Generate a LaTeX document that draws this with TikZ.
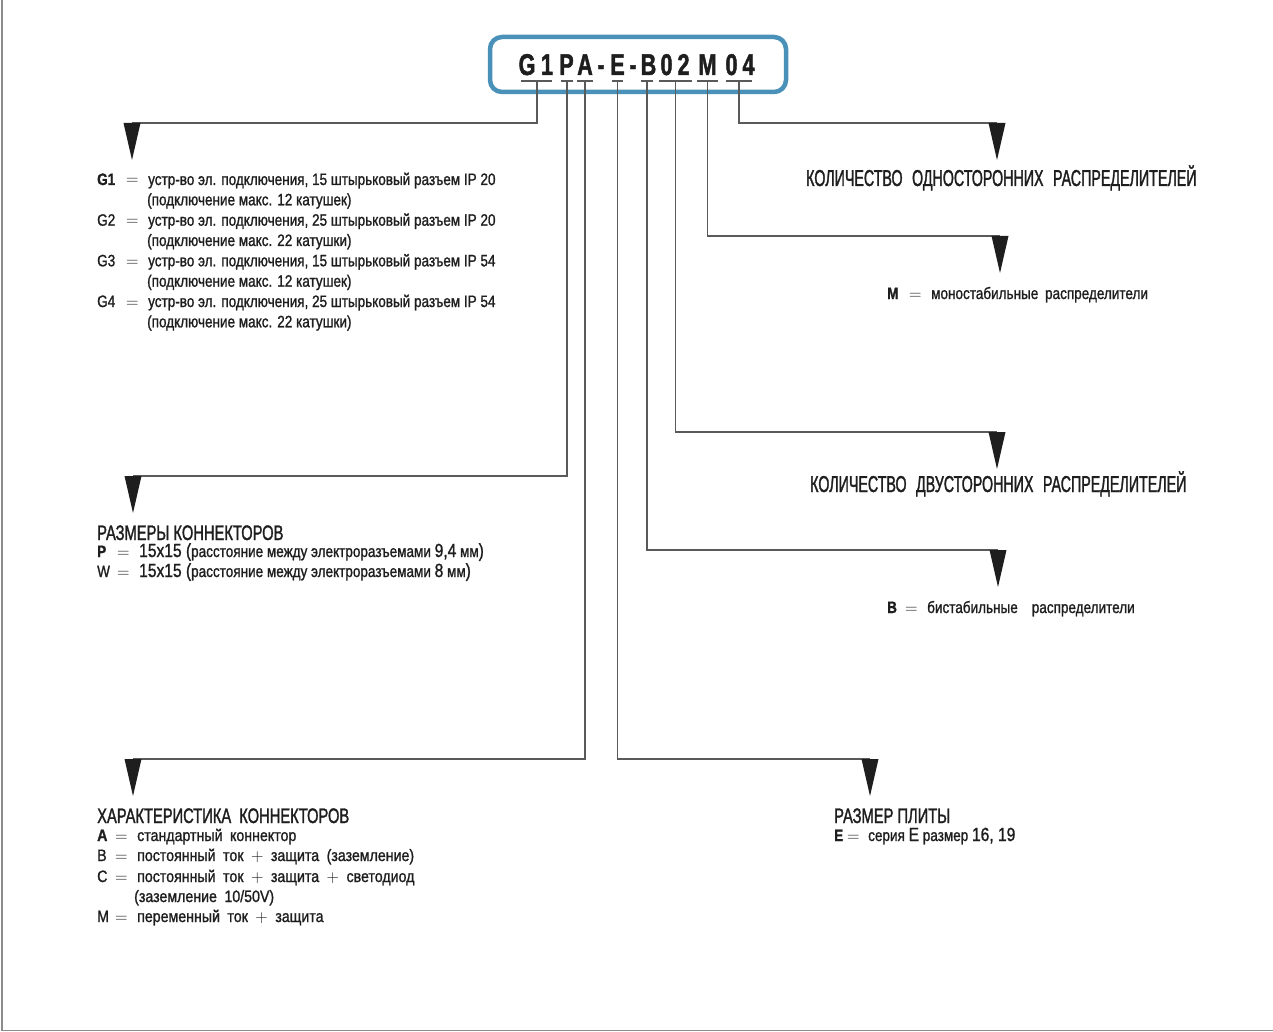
\documentclass[tikz,border=0pt]{standalone}
\usepackage{fontspec}
\setmainfont{Liberation Sans}
\newfontfamily\bodyfont[FakeStretch=0.82,FakeBold=1.2]{Liberation Sans}
\newfontfamily\widefont[FakeStretch=0.86,FakeBold=1.2,WordSpace=1.9]{Liberation Sans}
\newfontfamily\headfont[FakeStretch=0.7,FakeBold=1.4]{Liberation Sans}
\newfontfamily\bigheadfont[FakeStretch=0.62,FakeBold=1.4,WordSpace=2.4]{Liberation Sans}
\newfontfamily\codefont[FakeStretch=0.72,FakeBold=1.5]{Liberation Sans}
\definecolor{boxblue}{RGB}{74,145,186}
\definecolor{linegray}{RGB}{90,90,90}
\definecolor{ink}{RGB}{30,30,30}
\definecolor{framegray}{RGB}{140,140,140}
\tikzset{
  body/.style={font=\bodyfont\fontsize{16.5}{20}\selectfont, text=ink, inner sep=0pt, anchor=base west},
  wbody/.style={font=\widefont\fontsize{16.5}{20}\selectfont, text=ink, inner sep=0pt, anchor=base west},
  head/.style={font=\headfont\fontsize{21}{24}\selectfont, text=ink, inner sep=0pt, anchor=base west},
  bighead/.style={font=\bigheadfont\fontsize{23}{26}\selectfont, text=ink, inner sep=0pt, anchor=base west},
  codechar/.style={font=\codefont\bfseries\fontsize{30}{32}\selectfont, text=ink, inner sep=0pt, anchor=base},
  conn/.style={draw=linegray, line width=1.3pt},
  uline/.style={draw=linegray, line width=1.5pt},
  codebox/.style={draw=boxblue, line width=4.5pt, rounded corners=12pt, minimum width=296pt, minimum height=55pt, inner sep=0pt},
}
\newcommand\arrowtri[1]{\fill[ink] (#1) ++(-8.5,0) -- ++(17,0) -- ++(-8.5,37) -- cycle;}
\newcommand\lt[1]{{\fontsize{19}{20}\selectfont #1}}
\begin{document}
\begin{tikzpicture}[x=1pt,y=-1pt]
\useasboundingbox (0,0) rectangle (1273,1032);
\draw[framegray, line width=1.5pt] (2,0) -- (2,1030.5) -- (1273,1030.5);

% code box
\node[codebox] (box) at (638,64.5) {};
\foreach \ch/\x [count=\i] in {G/527,1/547,P/566.5,A/585,-/601,E/617.5,-/633,B/648.5,0/666.5,2/683.5,M/707.5,0/731.5,4/748.5}
  \node[codechar] (c\i) at (\x,75) {\ch};
\foreach \a/\b in {521/552,561/573,577/593,612/623,641/653,659/692,697/718,726/752}
  \draw[uline] (\a,81) -- (\b,81);

% connector start points
\coordinate (u1) at (537,81);
\coordinate (u2) at (567,81);
\coordinate (u3) at (585,81);
\coordinate (u4) at (617.5,81);
\coordinate (u5) at (647,81);
\coordinate (u6) at (675.5,81);
\coordinate (u7) at (707.5,81);
\coordinate (u8) at (739,81);
% arrow tops
\coordinate (t1) at (132,123);
\coordinate (t2) at (133,476);
\coordinate (t3) at (133,759);
\coordinate (t4) at (870,759);
\coordinate (t5) at (998,550);
\coordinate (t6) at (997,432);
\coordinate (t7) at (1000,236);
\coordinate (t8) at (997,123);

\draw[conn] (u1) |- (t1);
\draw[conn] (u2) |- (t2);
\draw[conn] (u3) |- (t3);
\draw[conn] (u4) |- (t4);
\draw[conn] (u5) |- (t5);
\draw[conn] (u6) |- (t6);
\draw[conn] (u7) |- (t7);
\draw[conn] (u8) |- (t8);
\arrowtri{t1}\arrowtri{t2}\arrowtri{t3}\arrowtri{t4}
\arrowtri{t5}\arrowtri{t6}\arrowtri{t7}\arrowtri{t8}

% G block
\node[body] (g1) at (97,185) {\makebox[29pt][l]{\bfseries G1}\makebox[22pt][l]{$=$}устр-во эл. подключения, 15 штырьковый разъем IP 20};
\node[body] (g1b) at (147,205.3) {(подключение макс. 12 катушек)};
\node[body] (g2) at (97,225.7) {\makebox[29pt][l]{G2}\makebox[22pt][l]{$=$}устр-во эл. подключения, 25 штырьковый разъем IP 20};
\node[body] (g2b) at (147,246) {(подключение макс. 22 катушки)};
\node[body] (g3) at (97,266.3) {\makebox[29pt][l]{G3}\makebox[22pt][l]{$=$}устр-во эл. подключения, 15 штырьковый разъем IP 54};
\node[body] (g3b) at (147,286.7) {(подключение макс. 12 катушек)};
\node[body] (g4) at (97,307) {\makebox[29pt][l]{G4}\makebox[22pt][l]{$=$}устр-во эл. подключения, 25 штырьковый разъем IP 54};
\node[body] (g4b) at (147,327.3) {(подключение макс. 22 катушки)};

% connector sizes
\node[head] (hp) at (97,540) {РАЗМЕРЫ КОННЕКТОРОВ};
\node[body] (pp) at (97,557) {\makebox[20pt][l]{\bfseries P}\makebox[22pt][l]{$=$}\lt{15x15 (}расстояние между электроразъемами \lt{9,4} мм\lt{)}};
\node[body] (ww) at (97,577) {\makebox[20pt][l]{W}\makebox[22pt][l]{$=$}\lt{15x15 (}расстояние между электроразъемами \lt{8} мм\lt{)}};

% connector characteristics
\node[head] (hc) at (97,823) {ХАРАКТЕРИСТИКА\hspace{4pt} КОННЕКТОРОВ};
\node[wbody] (ca) at (97,841) {\makebox[18pt][l]{\bfseries A}\makebox[22pt][l]{$=$}стандартный коннектор};
\node[wbody] (cb) at (97,861) {\makebox[18pt][l]{B}\makebox[22pt][l]{$=$}постоянный ток $+$ защита (заземление)};
\node[wbody] (cc) at (97,882) {\makebox[18pt][l]{C}\makebox[22pt][l]{$=$}постоянный ток $+$ защита $+$ светодиод};
\node[wbody] (cc2) at (134,902) {(заземление 10/50V)};
\node[wbody] (cm) at (97,922) {\makebox[18pt][l]{M}\makebox[22pt][l]{$=$}переменный ток $+$ защита};

% right side
\node[bighead] (h1) at (806,186) {КОЛИЧЕСТВО ОДНОСТОРОННИХ РАСПРЕДЕЛИТЕЛЕЙ};
\node[body] (mm) at (887,299) {\makebox[22pt][l]{\bfseries M}\makebox[22pt][l]{$=$}моностабильные\hspace{3pt} распределители};
\node[bighead] (h2) at (810,492) {КОЛИЧЕСТВО ДВУСТОРОННИХ РАСПРЕДЕЛИТЕЛЕЙ};
\node[body] (bb) at (887,613) {\makebox[18pt][l]{\bfseries B}\makebox[22pt][l]{$=$}бистабильные\hspace{14pt}распределители};
\node[head] (hs) at (834,823) {РАЗМЕР ПЛИТЫ};
\node[body] (ee) at (834,841) {\makebox[13pt][l]{\bfseries E}\makebox[21pt][l]{$=$}серия \lt{E} размер \lt{16, 19}};
\end{tikzpicture}
\end{document}
